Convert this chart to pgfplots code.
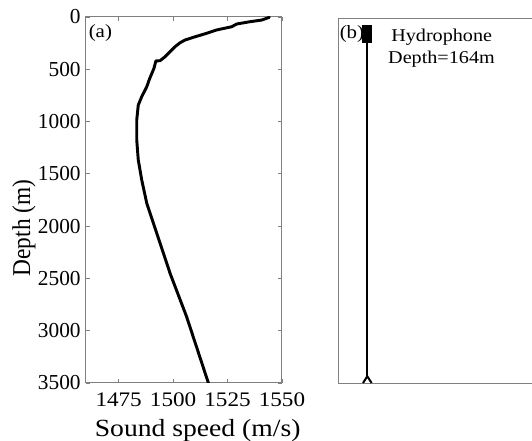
\documentclass[border=0pt]{standalone}
\usepackage{fontspec}
\setmainfont{Liberation Serif}
\newfontfamily\wideserif{Liberation Serif}[FakeStretch=1.12]
\usepackage{pgfplots}
\pgfplotsset{compat=1.18}
\definecolor{axgray}{RGB}{128,128,128}
\begin{document}
\begin{tikzpicture}
\path[use as bounding box] (0,0) rectangle (399pt,-330.75pt);
\begin{axis}[
 scale only axis, width=147pt, height=274.5pt,
 at={(64.5pt,-12.75pt)}, anchor=north west,
 xmin=1460, xmax=1550, ymin=0, ymax=3500, y dir=reverse,
 xtick={1475,1500,1525,1550}, ytick={0,500,...,3500},
 tick align=inside, major tick length=3pt,
 axis line style={draw=axgray, line width=0.75pt},
 every tick/.style={axgray, line width=0.6pt},
 /pgf/number format/assume math mode=true,
 /pgf/number format/1000 sep={},
 tick label style={font=\fontsize{16}{18}\selectfont, black},
 xticklabel style={yshift=-3.5pt, font=\wideserif\fontsize{15.5}{18}\selectfont},
 yticklabel style={xshift=-0.5pt},
]
\addplot[black, line width=2.2pt, line join=round, line cap=round] coordinates {
(1544.2,3) (1540.7,29) (1535.3,45) (1529.2,67) (1526.9,93) (1520.0,124)
(1515.4,156) (1509.3,194) (1505.5,220) (1503.2,246) (1500.9,284) (1498.6,332)
(1496.3,380) (1494.0,418) (1492.1,420) (1491.2,491) (1489.1,596) (1487.9,667)
(1485.6,762) (1484.0,842) (1483.3,985) (1483.3,1176) (1484.0,1367) (1485.6,1559)
(1487.9,1781) (1492.5,2068) (1498.6,2451) (1506.2,2866) (1516.2,3500)
};
\end{axis}
\begin{axis}[
 scale only axis, width=166.5pt, height=273.4pt,
 at={(253.5pt,-14.25pt)}, anchor=north west,
 xmin=0, xmax=222, ymin=0, ymax=3500, y dir=reverse,
 xtick=\empty, ytick=\empty,
 axis line style={draw=axgray, line width=0.75pt},
]
\addplot[black, line width=1.5pt] coordinates {(29.3,233) (29.3,3430)};
\addplot[black, line width=7.5pt] coordinates {(29.3,58) (29.3,233)};
\addplot[black, line width=1.5pt, line join=round] coordinates {(25,3495) (29.3,3430) (33.6,3495)};
\end{axis}
\begin{scope}[x=0.75pt,y=-0.75pt]
\node[anchor=base west, inner sep=0, font=\wideserif\fontsize{14}{16}\selectfont] at (88.5,37.3) {(a)};
\node[anchor=base west, inner sep=0, font=\wideserif\fontsize{14}{16}\selectfont] at (339.5,39) {(b)};
\node[anchor=base, inner sep=0, font=\wideserif\fontsize{13.5}{15}\selectfont] at (441.7,41.7) {Hydrophone};
\node[anchor=base, inner sep=0, font=\wideserif\fontsize{13.5}{15}\selectfont] at (441.5,63.3) {Depth=164m};
\node[anchor=base, inner sep=0, font=\wideserif\fontsize{18.5}{21}\selectfont] at (197.7,436) {Sound speed (m/s)};
\node[anchor=base, inner sep=0, rotate=90, font=\fontsize{17.5}{20}\selectfont] at (30,228) {\scalebox{1}[1.1]{Depth (m)}};
\end{scope}
\end{tikzpicture}
\end{document}
